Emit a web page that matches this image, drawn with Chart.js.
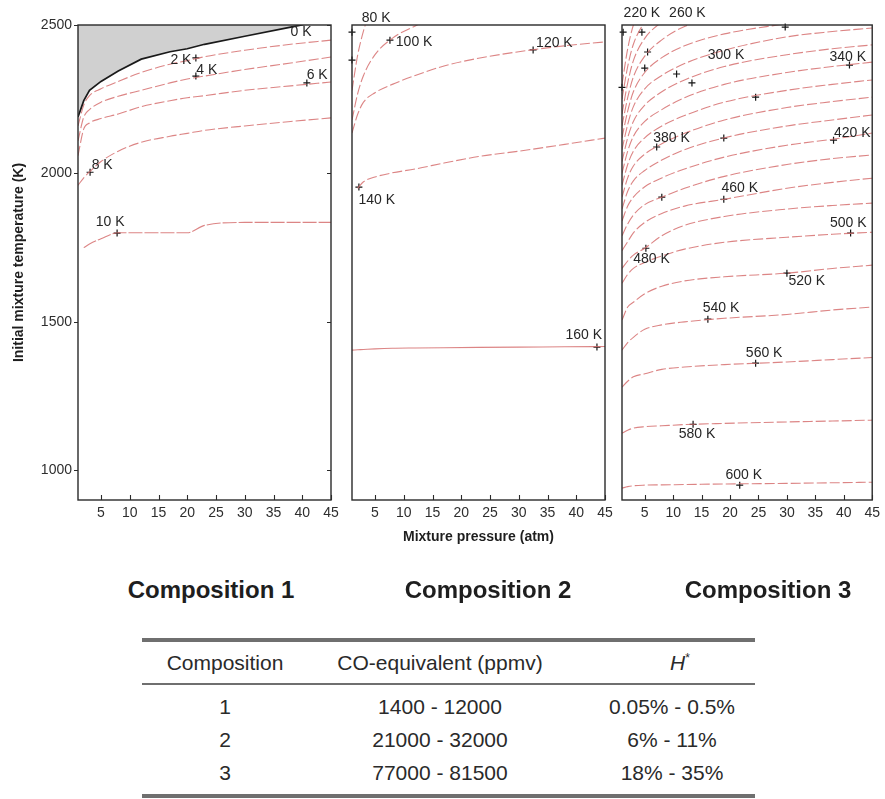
<!DOCTYPE html>
<html><head><meta charset="utf-8">
<script src="https://cdn.jsdelivr.net/npm/chart.js@4.4.1/dist/chart.umd.min.js"></script>
<style>
html,body{margin:0;padding:0;background:#fff;width:885px;height:799px;overflow:hidden;font-family:"Liberation Sans",Arial,Helvetica,sans-serif;color:#222;}
canvas{position:absolute;top:0;}
.comp{position:absolute;top:576px;font-weight:bold;font-size:24px;transform:translateX(-50%);white-space:nowrap;color:#1e1e1e;}
.rule{position:absolute;left:142px;width:613px;background:#6f6f6f;}
.cell{position:absolute;font-size:21px;transform:translate(-50%,-50%);white-space:nowrap;color:#2a2a2a;}
</style></head><body>
<canvas id="c1" width="345" height="560" style="left:0px"></canvas>
<canvas id="c2" width="280" height="560" style="left:340px"></canvas>
<canvas id="c3" width="275" height="560" style="left:610px"></canvas>

<div class="comp" style="left:211px">Composition 1</div>
<div class="comp" style="left:488px">Composition 2</div>
<div class="comp" style="left:768px">Composition 3</div>

<div class="rule" style="top:638px;height:4px"></div>
<div class="rule" style="top:683px;height:2px"></div>
<div class="rule" style="top:794px;height:4px"></div>
<div id="tbl"></div>

<script>
// ---------- axis ticks ----------
const pressureTicks = [5, 10, 15, 20, 25, 30, 35, 40, 45];
const temperatureTicks = [1000, 1500, 2000, 2500];

// ---------- Composition 1 ----------
const comp1Pressure = [1, 2, 3, 5, 8, 12, 17, 20, 23, 30, 38, 45];
const comp1Boundary0K = [2190, 2245, 2280, 2310, 2345, 2385, 2410, 2420, 2435, 2462, 2493, 2520];
const comp1Line2K = [2160, 2230, 2262, 2285, 2310, 2340, 2368, 2380, 2393, 2415, 2435, 2449];
const comp1Line4K = [2110, 2190, 2215, 2240, 2260, 2280, 2305, 2318, 2328, 2350, 2372, 2392];
const comp1Line6K = [2060, 2150, 2170, 2185, 2200, 2225, 2245, 2255, 2262, 2280, 2295, 2308];
const comp1Line8K = [1960, 1985, 2005, 2040, 2075, 2105, 2125, 2135, 2145, 2160, 2175, 2187];
const comp1Line10K = [null, 1750, 1762, 1780, 1800, 1800, 1800, 1800, 1825, 1835, 1835, 1835];
const comp1LabelText = ['0 K', '2 K', '4 K', '6 K', '8 K', '10 K'];
const comp1LabelP = [39.8, 18.9, 23.4, 42.6, 5.2, 6.6];
const comp1LabelT = [2476, 2382, 2348, 2331, 2028, 1836];
const comp1MarkerP = [21.5, 21.5, 40.8, 3.1, 7.8];
const comp1MarkerT = [2389, 2328, 2305, 2004, 1799];

// ---------- Composition 2 ----------
const comp2Pressure = [1, 2, 3, 5, 8, 12, 17, 23, 30, 38, 45];
const comp2Line80K = [2280, 2400, 2480, 2600, null, null, null, null, null, null, null];
const comp2Line100K = [2180, 2270, 2330, 2400, 2455, 2497, 2540, null, null, null, null];
const comp2Line120K = [2136, 2200, 2240, 2272, 2300, 2330, 2362, 2388, 2410, 2430, 2443];
const comp2Line140K = [null, 1950, 1972, 1988, 2002, 2015, 2035, 2057, 2075, 2098, 2119];
const comp2Line160K = [1405, 1406, 1407, 1409, 1411, 1412, 1413, 1414, 1415, 1416, 1417];
const comp2LabelText = ['80 K', '100 K', '120 K', '140 K', '160 K'];
const comp2LabelP = [5.2, 11.8, 36.2, 5.3, 41.3];
const comp2LabelT = [2524, 2443, 2439, 1910, 1455];
const comp2MarkerP = [1, 1, 7.6, 32.5, 2.2, 43.6];
const comp2MarkerT = [2476, 2382, 2449, 2416, 1954, 1415];

// ---------- Composition 3 ----------
const comp3Pressure = [1, 2, 3, 5, 8, 12, 19, 30, 38, 45];
const comp3Line200K = [2300, 2420, 2500, 2590, 2660, null, null, null, null, null];
const comp3Line220K = [2250, 2360, 2435, 2510, 2580, 2640, null, null, null, null];
const comp3Line240K = [2200, 2305, 2380, 2455, 2510, 2560, 2610, null, null, null];
const comp3Line260K = [2160, 2255, 2325, 2395, 2450, 2495, 2535, 2575, null, null];
const comp3Line280K = [2120, 2210, 2275, 2340, 2390, 2430, 2470, 2505, 2530, 2550];
const comp3Line300K = [2080, 2165, 2225, 2285, 2330, 2370, 2415, 2460, 2478, 2490];
const comp3Line320K = [2040, 2120, 2175, 2230, 2275, 2315, 2360, 2400, 2420, 2433];
const comp3Line340K = [2000, 2075, 2125, 2175, 2215, 2255, 2300, 2340, 2360, 2375];
const comp3Line360K = [1960, 2030, 2075, 2120, 2160, 2195, 2240, 2280, 2300, 2315];
const comp3Line380K = [1920, 1985, 2025, 2065, 2100, 2135, 2180, 2222, 2242, 2257];
const comp3Line400K = [1880, 1940, 1975, 2010, 2045, 2080, 2120, 2160, 2180, 2197];
const comp3Line420K = [1840, 1890, 1920, 1955, 1985, 2015, 2055, 2095, 2115, 2136];
const comp3Line440K = [1790, 1830, 1860, 1895, 1920, 1950, 1990, 2030, 2050, 2062];
const comp3Line460K = [1740, 1770, 1800, 1835, 1865, 1890, 1913, 1950, 1970, 1984];
const comp3Line480K = [1680, 1705, 1725, 1748, 1790, 1825, 1855, 1880, 1892, 1900];
const comp3Line500K = [1630, 1660, 1680, 1700, 1722, 1745, 1768, 1785, 1795, 1802];
const comp3Line520K = [1506, 1550, 1566, 1595, 1620, 1638, 1652, 1664, 1680, 1691];
const comp3Line540K = [1405, 1430, 1448, 1475, 1490, 1500, 1512, 1525, 1540, 1550];
const comp3Line560K = [1280, 1300, 1315, 1325, 1340, 1348, 1356, 1365, 1373, 1380];
const comp3Line580K = [1125, 1135, 1142, 1147, 1150, 1154, 1158, 1163, 1166, 1169];
const comp3Line600K = [940, 945, 948, 950, 951, 952, 954, 956, 958, 960];
const comp3LabelText = ['220 K', '260 K', '300 K', '340 K', '380 K', '420 K', '460 K', '480 K', '500 K', '520 K', '540 K', '560 K', '580 K', '600 K'];
const comp3LabelP = [4.5, 12.5, 19.3, 40.7, 9.7, 41.5, 21.7, 6.2, 40.8, 33.5, 18.4, 26, 14.2, 22.4];
const comp3LabelT = [2540, 2540, 2399, 2392, 2119, 2136, 1951, 1711, 1833, 1637, 1546, 1395, 1122, 983];
const comp3MarkerP = [1.2, 4.5, 5.5, 5, 10.6, 13.3, 24.5, 29.7, 41, 18.9, 38.2, 7.1, 8, 18.9, 41.2, 5.2, 30, 16.1, 24.5, 13.5, 21.7, 1];
const comp3MarkerT = [2476, 2476, 2409, 2355, 2335, 2305, 2257, 2493, 2365, 2119, 2112, 2089, 1920, 1913, 1799, 1748, 1664, 1509, 1361, 1155, 950, 2290];

// ---------- table ----------
const tableHeader = ['Composition', 'CO-equivalent (ppmv)', 'H'];
const tableComposition = ['1', '2', '3'];
const tableCOEquivalent = ['1400 - 12000', '21000 - 32000', '77000 - 81500'];
const tableHStar = ['0.05% - 0.5%', '6% - 11%', '18% - 35%'];

// ================= drawing =================
const FONT = '"Liberation Sans", Arial, Helvetica, sans-serif';
const RED = 'rgba(214,112,112,0.85)';

function series(grid, temps) {
  return grid.map((p, i) => ({x: p, y: temps[i]})).filter(d => d.y !== null && d.y !== undefined);
}
function contour(grid, temps, extra) {
  return Object.assign({
    data: series(grid, temps), borderColor: RED, borderWidth: 1.1, borderDash: [10, 3],
    pointRadius: 0, cubicInterpolationMode: 'monotone', fill: false
  }, extra || {});
}
function markers(ps, ts) {
  return {type: 'scatter', data: series(ps, ts), pointStyle: 'cross', pointRadius: 3.5,
    borderColor: '#151515', backgroundColor: '#151515', borderWidth: 1.2, showLine: false, clip: false};
}

const framePlugin = {
  id: 'frame',
  afterDatasetsDraw(chart, args, opts) {
    const {ctx, chartArea: a, scales: {x, y}} = chart;
    ctx.save();
    ctx.strokeStyle = '#2a2a2a'; ctx.lineWidth = 1.4; ctx.setLineDash([]);
    ctx.strokeRect(a.left, a.top, a.right - a.left, a.bottom - a.top);
    ctx.lineWidth = 1.1;
    ctx.beginPath();
    pressureTicks.forEach(v => {
      const px = Math.round(x.getPixelForValue(v)) + 0.5;
      ctx.moveTo(px, a.bottom); ctx.lineTo(px, a.bottom - 5);
    });
    if (opts.yTicks) {
      temperatureTicks.forEach(v => {
        const py = Math.round(y.getPixelForValue(v)) + 0.5;
        ctx.moveTo(a.left - 4, py); ctx.lineTo(a.left, py);
        ctx.moveTo(a.right, py); ctx.lineTo(a.right - 4, py);
      });
    }
    ctx.stroke();
    const L = opts.labels;
    ctx.font = '14px ' + FONT;
    ctx.fillStyle = '#262626'; ctx.textAlign = 'center'; ctx.textBaseline = 'middle';
    L.text.forEach((t, i) => ctx.fillText(t, x.getPixelForValue(L.p[i]), y.getPixelForValue(L.t[i])));
    ctx.restore();
  }
};

function makeChart(id, datasets, cfg) {
  const xTitle = cfg.xTitle ? {display: true, text: cfg.xTitle, color: '#1e1e1e',
      font: {family: FONT, size: 14, weight: 'bold'}, padding: {top: 0, bottom: 14}} : {display: false};
  const yAxis = cfg.yTitle ? {
    type: 'linear', min: 900, max: 2500,
    afterBuildTicks: s => { s.ticks = temperatureTicks.map(v => ({value: v})); },
    afterFit: s => { s.width = 70; },
    grid: {display: false, drawTicks: false}, border: {display: false},
    ticks: {padding: 6, color: '#2e2e2e', font: {family: FONT, size: 14}, callback: v => String(v)},
    title: {display: true, text: cfg.yTitle, color: '#1e1e1e', font: {family: FONT, size: 14, weight: 'bold'}, padding: {top: 3, bottom: 0}}
  } : {type: 'linear', min: 900, max: 2500, display: false};
  return new Chart(document.getElementById(id), {
    type: 'line',
    data: {datasets},
    options: {
      responsive: false, animation: false, devicePixelRatio: 1,
      layout: {padding: cfg.padding},
      plugins: {legend: {display: false}, tooltip: {enabled: false},
        frame: {yTicks: !!cfg.yTitle, labels: cfg.labels}},
      scales: {
        x: {type: 'linear', min: 1, max: 45,
          afterBuildTicks: s => { s.ticks = pressureTicks.map(v => ({value: v})); },
          afterFit: s => { s.height = 60; },
          grid: {display: false, drawTicks: false}, border: {display: false},
          ticks: {padding: 5, color: '#2e2e2e', maxRotation: 0, font: {family: FONT, size: 14}, callback: v => String(v)},
          title: xTitle},
        y: yAxis
      }
    },
    plugins: [framePlugin]
  });
}

makeChart('c1', [
  contour(comp1Pressure, comp1Boundary0K, {borderColor: '#1a1a1a', borderWidth: 1.7, borderDash: [], fill: 'end', backgroundColor: '#d0d0d0', cubicInterpolationMode: 'default', tension: 0}),
  contour(comp1Pressure, comp1Line2K),
  contour(comp1Pressure, comp1Line4K),
  contour(comp1Pressure, comp1Line6K),
  contour(comp1Pressure, comp1Line8K),
  contour(comp1Pressure, comp1Line10K, {borderDash: [14, 2]}),
  markers(comp1MarkerP, comp1MarkerT)
], {yTitle: 'Initial mixture temperature (K)', padding: {top: 25, left: 8, right: 14, bottom: 0},
    labels: {text: comp1LabelText, p: comp1LabelP, t: comp1LabelT}});

makeChart('c2', [
  contour(comp2Pressure, comp2Line80K),
  contour(comp2Pressure, comp2Line100K),
  contour(comp2Pressure, comp2Line120K),
  contour(comp2Pressure, comp2Line140K),
  contour(comp2Pressure, comp2Line160K, {borderDash: []}),
  markers(comp2MarkerP, comp2MarkerT)
], {xTitle: 'Mixture pressure (atm)', padding: {top: 25, left: 12, right: 15, bottom: 0},
    labels: {text: comp2LabelText, p: comp2LabelP, t: comp2LabelT}});

makeChart('c3', [
  contour(comp3Pressure, comp3Line200K),
  contour(comp3Pressure, comp3Line220K),
  contour(comp3Pressure, comp3Line240K),
  contour(comp3Pressure, comp3Line260K),
  contour(comp3Pressure, comp3Line280K),
  contour(comp3Pressure, comp3Line300K),
  contour(comp3Pressure, comp3Line320K),
  contour(comp3Pressure, comp3Line340K),
  contour(comp3Pressure, comp3Line360K),
  contour(comp3Pressure, comp3Line380K),
  contour(comp3Pressure, comp3Line400K),
  contour(comp3Pressure, comp3Line420K),
  contour(comp3Pressure, comp3Line440K),
  contour(comp3Pressure, comp3Line460K),
  contour(comp3Pressure, comp3Line480K),
  contour(comp3Pressure, comp3Line500K),
  contour(comp3Pressure, comp3Line520K),
  contour(comp3Pressure, comp3Line540K),
  contour(comp3Pressure, comp3Line560K),
  contour(comp3Pressure, comp3Line580K),
  contour(comp3Pressure, comp3Line600K),
  markers(comp3MarkerP, comp3MarkerT)
], {padding: {top: 25, left: 12, right: 9, bottom: 0},
    labels: {text: comp3LabelText, p: comp3LabelP, t: comp3LabelT}});

// ---------- table cells ----------
const colX = [225, 440, 672];
const rowY = [707, 740, 773];
const tbl = document.getElementById('tbl');
function cell(html, x, y) {
  const d = document.createElement('div');
  d.className = 'cell'; d.style.left = x + 'px'; d.style.top = y + 'px';
  d.innerHTML = html; tbl.appendChild(d);
}
cell(tableHeader[0], colX[0], 663);
cell(tableHeader[1], colX[1], 663);
cell('<i>' + tableHeader[2] + '</i><sup style="font-size:12px">*</sup>', colX[2] + 8, 663);
tableComposition.forEach((v, i) => {
  cell(v, colX[0], rowY[i]);
  cell(tableCOEquivalent[i], colX[1], rowY[i]);
  cell(tableHStar[i], colX[2], rowY[i]);
});
</script>
</body></html>
